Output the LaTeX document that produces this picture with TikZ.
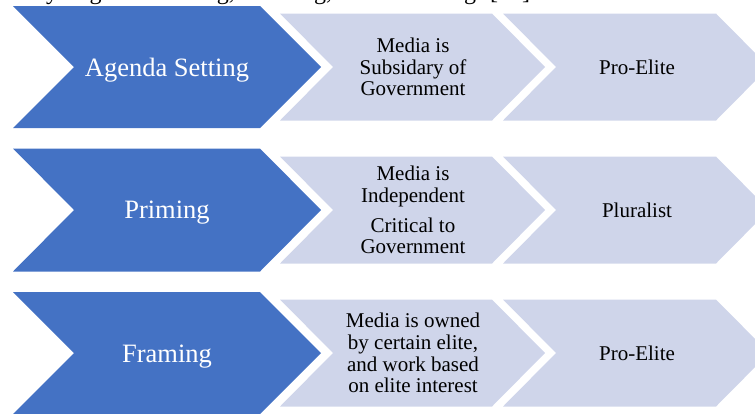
\documentclass[tikz,border=0pt]{standalone}
\usepackage{fontspec}
\setmainfont{Liberation Serif}

\definecolor{chevdark}{HTML}{4472C4}
\definecolor{chevlight}{HTML}{CFD5EA}

% chevron: left x, top-right x, centre y, half height, point depth
\newcommand\chevronpath[5]{%
  (#1,#3-#4) -- (#2,#3-#4) -- (#2+#5,#3) -- (#2,#3+#4) -- (#1,#3+#4) -- (#1+#5,#3) -- cycle}

\begin{document}
\begin{tikzpicture}[x=1pt,y=-1pt,
  darkchev/.style={fill=chevdark},
  lightchev/.style={fill=chevlight},
  headtext/.style={text=white,inner sep=0pt,anchor=base,font=\fontsize{26.5}{30}\selectfont},
  bodytext/.style={text=black,inner sep=0pt,align=center,font=\fontsize{21}{21.7}\selectfont},
  runningline/.style={text=black,inner sep=0pt,anchor=base west,font=\fontsize{24}{28}\selectfont}]
\useasboundingbox (0,0) rectangle (755,413);
\clip (0,0) rectangle (755,413);

% last line of the paragraph above, cut by the page edge
\node[runningline] (running) at (34,-1) {\spaceskip=14pt\relax by Agenda Setting, Priming, and Framing [12]};

% row 1
\fill[darkchev]  \chevronpath{13}{260}{67}{61}{61};
\fill[lightchev] \chevronpath{280}{492}{67}{53.5}{53};
\fill[lightchev] \chevronpath{503}{716}{67}{53.5}{53};
\node[headtext] (agenda) at (167,76.5) {Agenda Setting};
\node[bodytext] (subsid) at (413,67) {Media is\\Subsidary of\\Government};
\node[bodytext] (proelite1) at (637,67) {Pro-Elite};

% row 2
\fill[darkchev]  \chevronpath{13}{260}{210}{61.5}{61};
\fill[lightchev] \chevronpath{280}{492}{210}{53.5}{53};
\fill[lightchev] \chevronpath{503}{716}{210}{53.5}{53};
\node[headtext] (priming) at (167,218.5) {Priming};
\node[bodytext] (indep) at (413,210) {Media is\\Independent\\[8.3pt]Critical to\\Government};
\node[bodytext] (plural) at (637,210) {Pluralist};

% row 3
\fill[darkchev]  \chevronpath{13}{260}{353}{61}{61};
\fill[lightchev] \chevronpath{280}{492}{353}{53.5}{53};
\fill[lightchev] \chevronpath{503}{716}{353}{53.5}{53};
\node[headtext] (framing) at (167,362) {Framing};
\node[bodytext] (owned) at (413,353) {Media is owned\\by certain elite,\\and work based\\on elite interest};
\node[bodytext] (proelite2) at (637,353) {Pro-Elite};
\end{tikzpicture}
\end{document}
